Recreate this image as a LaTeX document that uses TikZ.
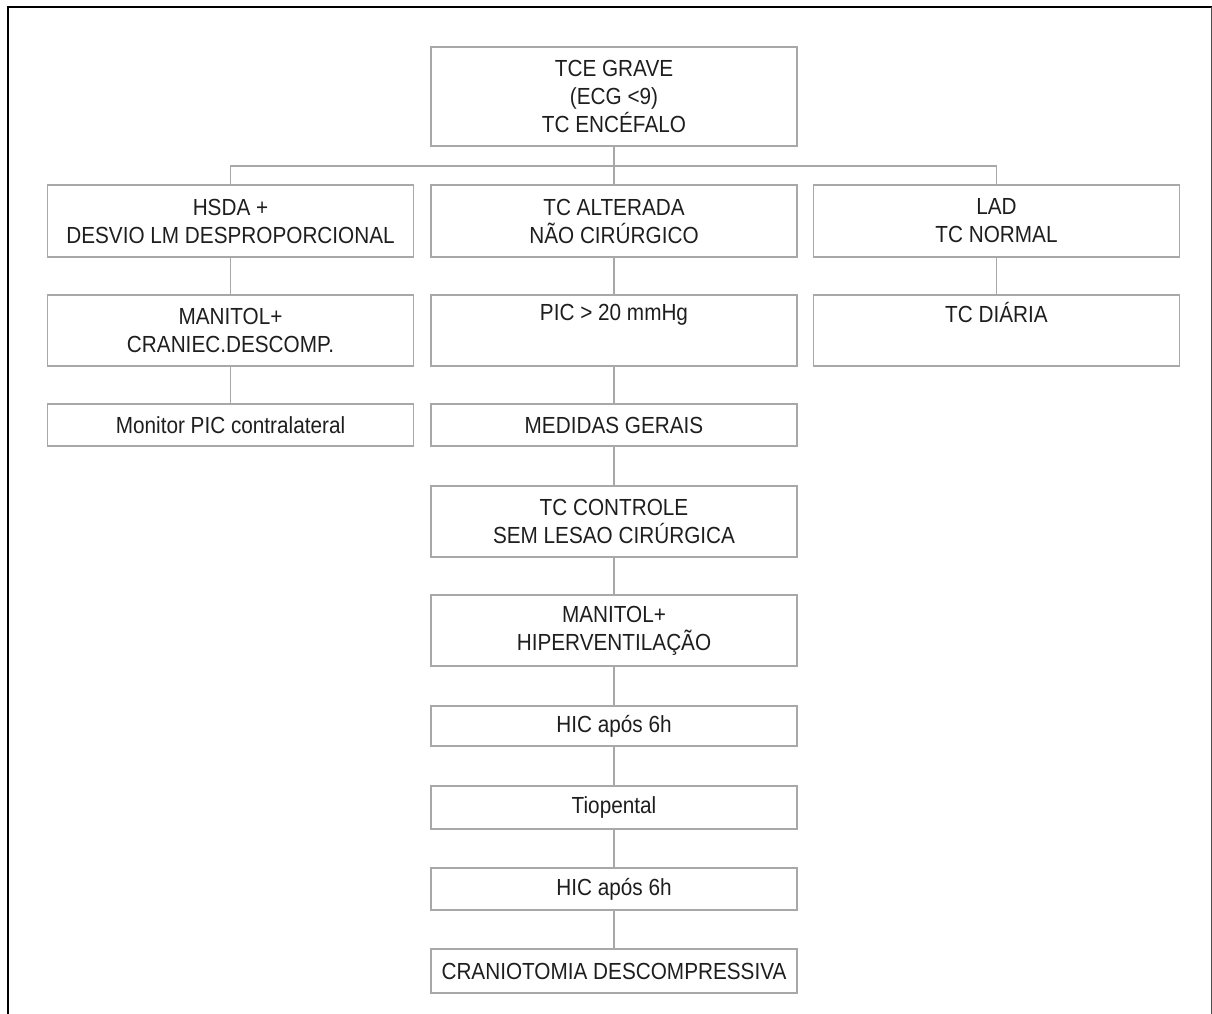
\documentclass[tikz,border=0pt]{standalone}
\usepackage{fontspec}
\setmainfont{Liberation Sans}[FakeStretch=0.89]
\definecolor{boxgray}{HTML}{A8A8A8}
\definecolor{txt}{HTML}{1E1E1E}
\begin{document}
\begin{tikzpicture}[x=1pt,y=-1pt,
  flowbox/.style={draw=boxgray, line width=1.8pt, inner sep=0pt, minimum width=366pt,
    align=center, text=txt, font=\fontsize{23.3}{28}\selectfont},
  link/.style={draw=boxgray, line width=1.8pt}]
\useasboundingbox (0,0) rectangle (1212,1014);
% outer frame
\draw[line width=2.8pt, black] (8,1014) -- (8,7) -- (1212,7);
\draw[line width=1pt, black!70] (1211,7) -- (1211,1014);
% nodes
\node[flowbox, minimum height=99pt] (top) at (614,96.5) {TCE GRAVE\\(ECG <9)\\TC ENCÉFALO};
\node[flowbox, minimum height=72pt] (L2) at (230.5,221) {HSDA +\\DESVIO LM DESPROPORCIONAL};
\node[flowbox, minimum height=72pt] (M2) at (614,221) {TC ALTERADA\\NÃO CIRÚRGICO};
\node[flowbox, minimum height=72pt] (R2) at (996.5,221) {LAD\\TC NORMAL};
\node[flowbox, minimum height=71pt] (L3) at (230.5,330.5) {MANITOL+\\CRANIEC.DESCOMP.};
\node[flowbox, minimum height=71pt] (M3) at (614,330.5) {PIC > 20 mmHg\\\strut};
\node[flowbox, minimum height=71pt] (R3) at (996.5,330.5) {TC DIÁRIA\\\strut};
\node[flowbox, minimum height=42pt] (L4) at (230.5,425) {Monitor PIC contralateral};
\node[flowbox, minimum height=42pt] (M4) at (614,425) {MEDIDAS GERAIS};
\node[flowbox, minimum height=71pt] (M5) at (614,521.5) {TC CONTROLE\\SEM LESAO CIRÚRGICA};
\node[flowbox, minimum height=71pt] (M6) at (614,630.5) {MANITOL+\\HIPERVENTILAÇÃO};
\node[flowbox, minimum height=40pt] (M7) at (614,726) {HIC após 6h};
\node[flowbox, minimum height=43pt] (M8) at (614,807.5) {Tiopental};
\node[flowbox, minimum height=42pt] (M9) at (614,889) {HIC após 6h};
\node[flowbox, minimum height=44pt] (M10) at (614,971) {CRANIOTOMIA DESCOMPRESSIVA};
% connectors
\coordinate (bus) at (614,166);
\draw[link] (top.south) -- (M2.north);
\draw[link] (L2.north) -- (L2.north |- bus) -- (R2.north |- bus) -- (R2.north);
\draw[link] (L2) -- (L3);
\draw[link] (L3) -- (L4);
\draw[link] (R2) -- (R3);
\draw[link] (M2) -- (M3);
\draw[link] (M3) -- (M4);
\draw[link] (M4) -- (M5);
\draw[link] (M5) -- (M6);
\draw[link] (M6) -- (M7);
\draw[link] (M7) -- (M8);
\draw[link] (M8) -- (M9);
\draw[link] (M9) -- (M10);
\end{tikzpicture}
\end{document}
